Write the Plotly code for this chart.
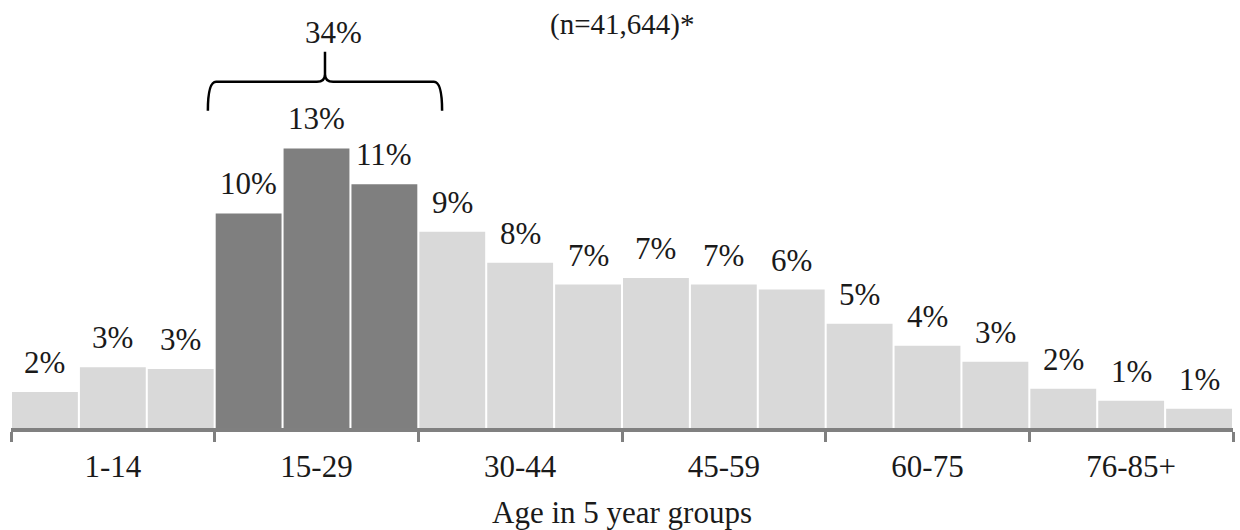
import plotly.graph_objects as go

# ---- data ----
age_bands = ["1-4", "5-9", "10-14", "15-19", "20-24", "25-29",
             "30-34", "35-39", "40-44", "45-49", "50-54", "55-59",
             "60-64", "65-69", "70-75", "76-80", "81-85", "85+"]
shares = [1.67, 2.83, 2.74, 9.98, 13.0, 11.33,
          9.13, 7.68, 6.67, 6.98, 6.67, 6.44,
          4.85, 3.82, 3.08, 1.83, 1.27, 0.90]
group_labels = ["1-14", "15-29", "30-44", "45-59", "60-75", "76-85+"]
highlight_group = "15-29"
sample_note = "(n=41,644)*"
x_title = "Age in 5 year groups"

GROUP_SIZE = 3
LIGHT = "#d9d9d9"
DARK = "#7f7f7f"
AXIS = "#808080"
FONT = "Liberation Serif"
FS = 31
TXT = "#1a1a1a"

xs = list(range(len(age_bands)))
hi_idx = group_labels.index(highlight_group)
colors = [DARK if i // GROUP_SIZE == hi_idx else LIGHT for i in xs]

fig = go.Figure()
fig.add_trace(go.Bar(
    x=xs, y=shares, marker=dict(color=colors, line=dict(width=0)),
    customdata=age_bands,
    hovertemplate="%{customdata}: %{y:.1f}%<extra></extra>",
    showlegend=False,
))

annotations = []
for i, v in zip(xs, shares):
    annotations.append(dict(
        x=i, y=v, xref="x", yref="y", text=f"{round(v):.0f}%",
        showarrow=False, yanchor="bottom", yshift=10,
        font=dict(family=FONT, size=FS, color=TXT),
    ))

# bracket over highlighted group
g0 = hi_idx * GROUP_SIZE
g1 = g0 + GROUP_SIZE - 1
grp_vals = shares[g0:g1 + 1]
x0 = g0 - 0.6
x1 = g1 + 0.85
xm = (x0 + x1) / 2
ytop_bar = max(grp_vals)
yb = ytop_bar + 1.75
yh = ytop_bar + 3.1
yp = ytop_bar + 4.5
c = 0.12
s = 0.35
path = (f"M {x0},{yb} Q {x0},{yh} {x0 + c},{yh} L {xm - c},{yh} "
        f"Q {xm},{yh} {xm},{yh + s} L {xm},{yp} "
        f"M {xm},{yh + s} Q {xm},{yh} {xm + c},{yh} L {x1 - c},{yh} "
        f"Q {x1},{yh} {x1},{yb}")
shapes = [dict(type="path", path=path, xref="x", yref="y",
               line=dict(color="black", width=2.5))]

annotations.append(dict(
    x=xm, y=yp, xref="x", yref="y", text=f"{round(sum(grp_vals)):.0f}%",
    showarrow=False, yanchor="bottom", xshift=9, yshift=0,
    font=dict(family=FONT, size=FS, color=TXT),
))
annotations.append(dict(
    x=0.5, y=0.96, xref="paper", yref="paper", text=sample_note,
    showarrow=False, yanchor="middle",
    font=dict(family=FONT, size=FS - 2, color=TXT),
))
annotations.append(dict(
    x=0.5, y=-0.2, xref="paper", yref="paper", text=x_title,
    showarrow=False, yanchor="middle",
    font=dict(family=FONT, size=FS, color=TXT),
))

n_groups = len(group_labels)
centers = [g * GROUP_SIZE + (GROUP_SIZE - 1) / 2 for g in range(n_groups)]
bounds = [g * GROUP_SIZE - 0.5 for g in range(n_groups + 1)]

fig.update_layout(
    width=1240, height=530,
    margin=dict(l=11, r=7, t=8, b=102),
    paper_bgcolor="white", plot_bgcolor="white",
    bargap=0.03,
    font=dict(family=FONT, size=FS, color=TXT),
    annotations=annotations, shapes=shapes,
    xaxis=dict(
        range=[-0.5, len(xs) - 0.5],
        tickmode="array", tickvals=centers, ticktext=group_labels,
        ticks="outside", ticklen=8, tickcolor="rgba(0,0,0,0)",
        showline=True, linecolor=AXIS, linewidth=4,
        showgrid=False, zeroline=False,
        tickfont=dict(family=FONT, size=FS, color=TXT),
        minor=dict(tickmode="array", tickvals=bounds, ticks="outside",
                   ticklen=10, tickwidth=3, tickcolor=AXIS, showgrid=False),
    ),
    yaxis=dict(range=[0, 19.53], visible=False, showgrid=False),
)

fig.write_html("out.html", config={"displayModeBar": False},
               post_script="document.body.style.margin='0';document.body.style.overflow='hidden';")
